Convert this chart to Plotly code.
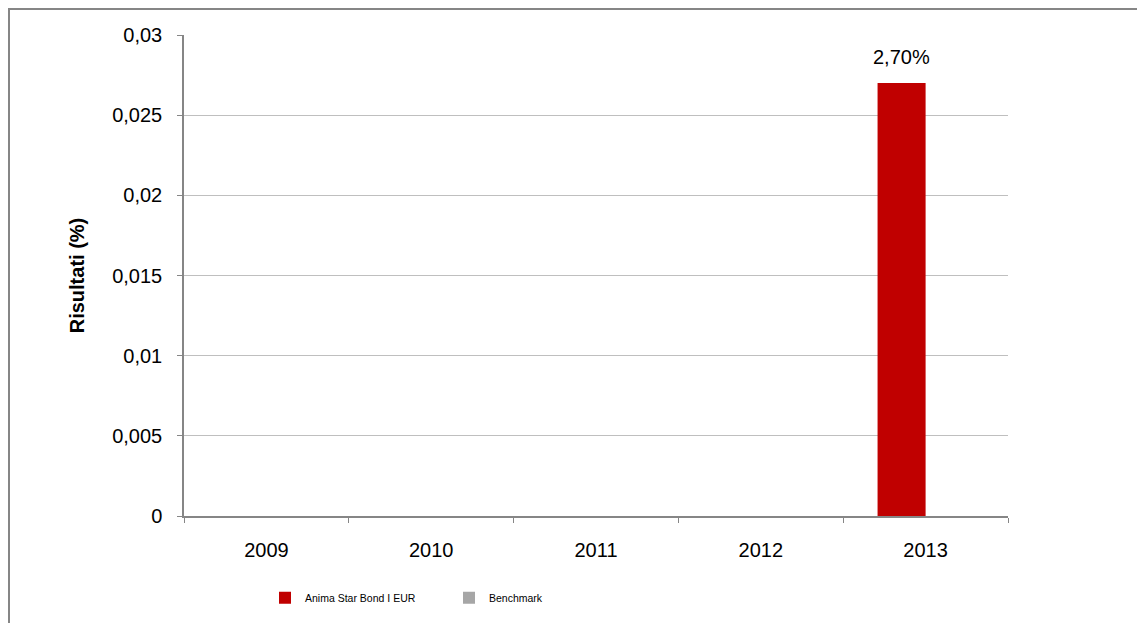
import plotly.graph_objects as go

years = ["2009", "2010", "2011", "2012", "2013"]
fund_values = [None, None, None, None, 0.027]
bench_values = [None, None, None, None, None]
fund_labels = ["", "", "", "", "2,70%"]
y_ticks = [0, 0.005, 0.01, 0.015, 0.02, 0.025, 0.03]

FONT = "Liberation Sans, Arial, sans-serif"

# the page draws the figure 8px from the window edge
L, T, R, B = 176, 27, 145, 115
PW, PH = 1145 - L - R, 623 - T - B

fig = go.Figure()
fig.add_trace(go.Bar(name="Anima Star Bond I EUR", x=years, y=fund_values,
                     marker=dict(color="#C00000", line=dict(width=0))))
fig.add_trace(go.Bar(name="Benchmark", x=years, y=bench_values,
                     marker=dict(color="#A6A6A6", line=dict(width=0))))

annotations = []
for i, (v, lab) in enumerate(zip(fund_values, fund_labels)):
    if v is not None and lab:
        annotations.append(dict(x=i, y=v, text=lab, showarrow=False, xref="x", yref="y",
                                xshift=-24, yanchor="bottom", yshift=13,
                                font=dict(family=FONT, size=20, color="#000000")))

fig.update_layout(
    width=1145, height=623,
    margin=dict(l=L, r=R, t=T, b=B, autoexpand=False),
    paper_bgcolor="white", plot_bgcolor="white",
    separators=",.",
    barmode="group", bargap=0.417, bargroupgap=0,
    font=dict(family=FONT, size=20, color="#000000"),
    showlegend=True,
    legend=dict(orientation="h", x=(265 - 8 - L) / PW, y=-0.14, xanchor="left", yanchor="top",
                font=dict(family="Liberation Sans Narrow, Arial Narrow, Liberation Sans, sans-serif", size=10.5),
                itemwidth=30, entrywidth=139, traceorder="normal",
                bgcolor="rgba(0,0,0,0)"),
    annotations=annotations,
    shapes=[dict(type="rect", xref="paper", yref="paper",
                 x0=(1 - L) / PW, x1=(1145 + 20 - L) / PW,
                 y0=-(B + 20) / PH, y1=1 + (T - 1) / PH,
                 line=dict(color="#868686", width=2), fillcolor="rgba(0,0,0,0)", layer="below")],
)

fig.update_yaxes(range=[0, 0.03], tickvals=y_ticks, showgrid=True, gridcolor="#BFBFBF", gridwidth=1,
                 showline=True, linecolor="#868686", linewidth=1.5,
                 ticks="outside", ticklen=5, tickcolor="#868686",
                 ticklabelstandoff=11, zeroline=False, automargin=False,
                 tickfont=dict(size=20),
                 title=dict(text="<b>Risultati (%)</b>", font=dict(family=FONT, size=20), standoff=22))
fig.update_xaxes(type="category", range=[-0.5, len(years) - 0.5], showline=True,
                 linecolor="#868686", linewidth=1.5,
                 ticks="outside", ticklen=5, tickcolor="#868686", tickson="boundaries",
                 ticklabelstandoff=15, showgrid=False, automargin=False, tickangle=0,
                 tickfont=dict(size=20))

fig.write_html("out.html")
